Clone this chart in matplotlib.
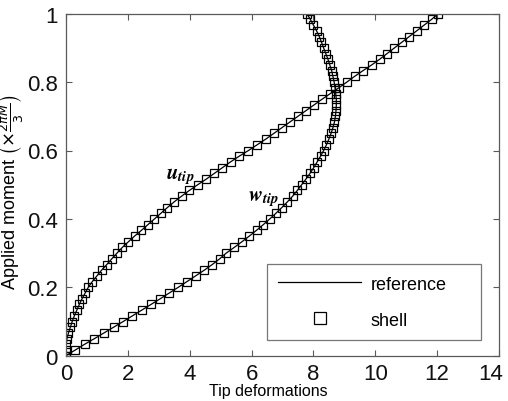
import matplotlib
matplotlib.use("Agg")
import matplotlib.pyplot as plt
import matplotlib.transforms as mtrans
import numpy as np

# Applied moment levels (61 load steps)
moment = [k / 60 for k in range(61)]

# u_tip curve (Tip deformation)
u_tip = [0.0, 0.0, 0.01, 0.03, 0.08, 0.14, 0.20, 0.27, 0.35, 0.43,
         0.52, 0.62, 0.72, 0.85, 1.00, 1.15, 1.32, 1.48, 1.65, 1.82,
         2.02, 2.22, 2.44, 2.65, 2.86, 3.07, 3.28, 3.50, 3.74, 3.99,
         4.26, 4.54, 4.80, 5.06, 5.32, 5.60, 5.90, 6.18, 6.46, 6.72,
         6.98, 7.24, 7.50, 7.76, 8.02, 8.28, 8.55, 8.82, 9.08, 9.33,
         9.60, 9.88, 10.14, 10.38, 10.62, 10.86, 11.10, 11.34, 11.58, 11.82,
         12.03]

# w_tip curve
w_tip = [0.0, 0.30, 0.60, 0.92, 1.23, 1.54, 1.85, 2.15, 2.45, 2.75,
         3.05, 3.34, 3.63, 3.91, 4.19, 4.47, 4.73, 4.97, 5.18, 5.44,
         5.69, 5.93, 6.16, 6.38, 6.59, 6.79, 6.98, 7.16, 7.33, 7.48,
         7.62, 7.76, 7.89, 8.01, 8.12, 8.23, 8.33, 8.42, 8.50, 8.57,
         8.63, 8.68, 8.71, 8.73, 8.74, 8.74, 8.72, 8.70, 8.67, 8.63,
         8.59, 8.53, 8.47, 8.40, 8.33, 8.26, 8.19, 8.10, 8.00, 7.90,
         7.79]

xticks = [0, 2, 4, 6, 8, 10, 12, 14]
yticks = [0, 0.2, 0.4, 0.6, 0.8, 1]
ytick_labels = ["0", "0.2", "0.4", "0.6", "0.8", "1"]

plt.rcParams['font.family'] = ['Liberation Sans', 'DejaVu Sans']

fig = plt.figure(figsize=(5.08, 4.02), dpi=100)
ax = fig.add_axes([66/508, 1 - 356.7/402, (499-66)/508, (356.7-14.7)/402])

spine_c = '#5a5a5a'
for curve in (u_tip, w_tip):
    ax.plot(curve, moment, '-', color='black', lw=0.9)
    ax.plot(curve, moment, 's', mfc='none', mec='black', mew=0.9, ms=6.3)

# legend proxies
h1, = ax.plot([], [], '-', color='black', lw=0.9, label='reference')
h2, = ax.plot([], [], 's', mfc='none', mec='black', mew=0.9, ms=9, label='shell')

ax.set_xlim(0, 14)
ax.set_ylim(0, 1)
ax.set_xticks(xticks)
ax.set_xticklabels([str(t) for t in xticks])
ax.set_yticks(yticks)
ax.set_yticklabels(ytick_labels)
ax.tick_params(direction='in', top=True, right=True, length=4, width=0.8,
               color=spine_c, labelsize=16, labelcolor='#111111')
ax.tick_params(axis='x', pad=5)
ax.tick_params(axis='y', pad=6)
for s in ax.spines.values():
    s.set_color(spine_c)
    s.set_linewidth(0.9)

# last x tick label shifted left to stay inside the figure
lbl = ax.get_xticklabels()[-1]
lbl.set_transform(lbl.get_transform() + mtrans.ScaledTranslation(-8/100, 0, fig.dpi_scale_trans))

ax.set_xlabel('Tip deformations', fontsize=11.5)
ax.xaxis.set_label_coords((268-66)/433, (356.7-384)/342)
ax.set_ylabel(r'Applied moment $\left(\times\frac{2\pi M}{3}\right)$', fontsize=13,
              math_fontfamily='dejavusans')
ax.yaxis.set_label_coords((25-66)/433, (356.7-192)/342)

ax.text(3.69, 0.528, r'$\boldsymbol{u}_{\boldsymbol{tip}}$', fontsize=15,
        ha='center', va='center', math_fontfamily='stix')
ax.text(6.38, 0.46, r'$\boldsymbol{w}_{\boldsymbol{tip}}$', fontsize=15,
        ha='center', va='center', math_fontfamily='stix')

leg = ax.legend(handles=[h1, h2], loc='lower left',
                bbox_to_anchor=((267-66)/433, (356.7-340.7)/342, (481-267)/433, (340.7-265)/342),
                mode='expand', borderaxespad=0, fontsize=13, handlelength=4.6,
                handletextpad=0.5, labelspacing=1.05, borderpad=0.62,
                fancybox=False, edgecolor='#777777', framealpha=1)
leg.get_frame().set_linewidth(0.9)

fig.savefig('out.png', dpi=100)
